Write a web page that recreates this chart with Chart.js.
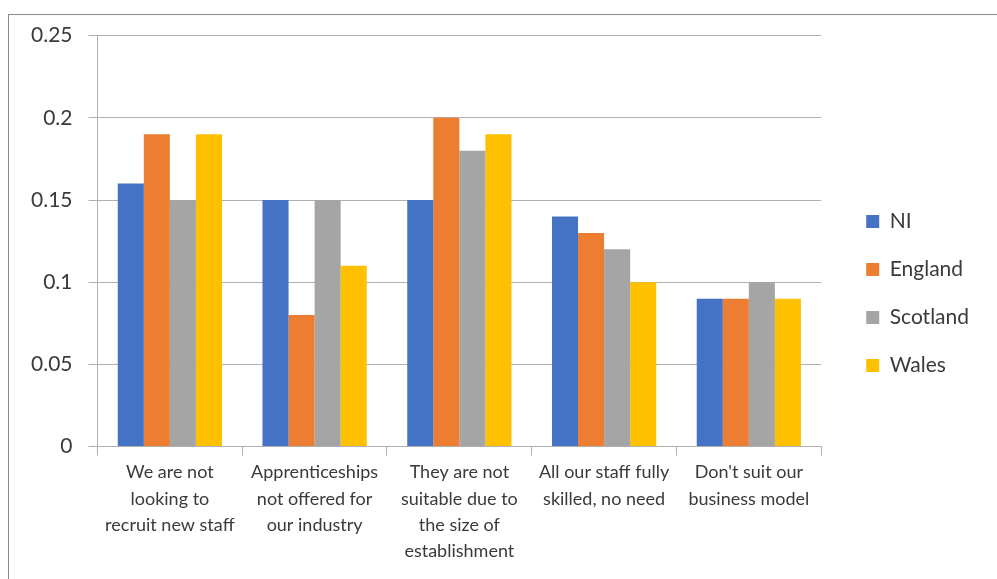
<!DOCTYPE html>
<html>
<head>
<meta charset="utf-8">
<script src="https://cdn.jsdelivr.net/npm/chart.js@4/dist/chart.umd.min.js"></script>
<style>
  html, body { margin: 0; padding: 0; background: #fff; }
  body { width: 997px; height: 579px; position: relative; overflow: hidden; }
  #frame {
    position: absolute; left: 8px; top: 14px; width: 989px; height: 565px;
    border-left: 1px solid #8a8a8a; border-top: 1px solid #8a8a8a;
  }
  #wrap { position: absolute; left: 9px; top: 7px; width: 988px; height: 572px; }
</style>
</head>
<body>
<div id="frame"></div>
<div id="wrap"><canvas id="reasonsChart"></canvas></div>
<script>
// Reasons for not offering apprenticeships, by nation
const categories = [
  ['We are not', 'looking to', 'recruit new staff'],
  ['Apprenticeships', 'not offered for', 'our industry'],
  ['They are not', 'suitable due to', 'the size of', 'establishment'],
  ['All our staff fully', 'skilled, no need'],
  ["Don't suit our", 'business model']
];
const niValues       = [0.16, 0.15, 0.15, 0.14, 0.09];
const englandValues  = [0.19, 0.08, 0.20, 0.13, 0.09];
const scotlandValues = [0.15, 0.15, 0.18, 0.12, 0.10];
const walesValues    = [0.19, 0.11, 0.19, 0.10, 0.09];
const yTicks = [0, 0.05, 0.1, 0.15, 0.2, 0.25];

const fontFamily = 'Lato, "Open Sans", sans-serif';
const textColor = '#3a3a3a';

const ctx = document.getElementById('reasonsChart').getContext('2d');
new Chart(ctx, {
  type: 'bar',
  data: {
    labels: categories,
    datasets: [
      { label: 'NI', data: niValues, backgroundColor: '#4472C4' },
      { label: 'England', data: englandValues, backgroundColor: '#ED7D31' },
      { label: 'Scotland', data: scotlandValues, backgroundColor: '#A5A5A5' },
      { label: 'Wales', data: walesValues, backgroundColor: '#FFC000' }
    ]
  },
  options: {
    responsive: true,
    maintainAspectRatio: false,
    animation: false,
    datasets: {
      bar: { categoryPercentage: 0.72, barPercentage: 1.0 }
    },
    layout: { padding: { left: 6, top: 11, right: 18, bottom: 10 } },
    plugins: {
      title: { display: false },
      tooltip: { enabled: false },
      legend: {
        position: 'right',
        labels: {
          boxWidth: 13,
          boxHeight: 13,
          padding: 27,
          color: textColor,
          font: { family: fontFamily, size: 21 }
        }
      }
    },
    scales: {
      x: {
        afterFit: axis => { axis.height += 1; },
        grid: {
          display: true,
          drawOnChartArea: false,
          drawTicks: true,
          tickLength: 9,
          color: '#b0b0b0'
        },
        border: { color: '#b0b0b0' },
        ticks: {
          color: textColor,
          maxRotation: 0,
          autoSkip: false,
          padding: 4,
          font: { family: fontFamily, size: 18, lineHeight: 1.45 }
        }
      },
      y: {
        min: 0,
        max: 0.25,
        afterBuildTicks: axis => { axis.ticks = yTicks.map(v => ({ value: v })); },
        grid: { color: '#b0b0b0', tickLength: 9 },
        border: { display: true, color: '#b0b0b0' },
        ticks: {
          color: textColor,
          padding: 16,
          font: { family: fontFamily, size: 21 },
          callback: v => String(v)
        }
      },
      // empty spacer between the plot and the legend
      gap: {
        type: 'linear',
        position: 'right',
        display: true,
        afterFit: axis => { axis.width = 18; },
        grid: { display: false },
        border: { display: false },
        ticks: { display: false }
      }
    }
  }
});
</script>
</body>
</html>
